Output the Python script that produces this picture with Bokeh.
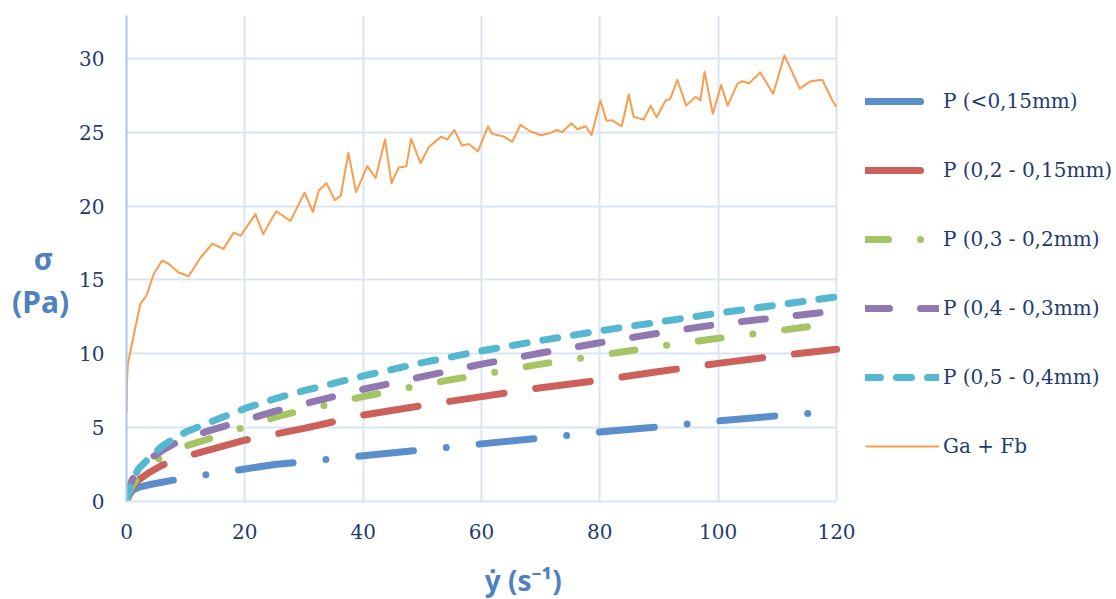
from bokeh.plotting import figure
from bokeh.models import FixedTicker, Range1d, Legend, LegendItem
from bokeh.embed import file_html
from bokeh.resources import INLINE

# ---- data ----
x_ticks = [0, 20, 40, 60, 80, 100, 120]
y_ticks = [0, 5, 10, 15, 20, 25, 30]

rate = [0, 0.5, 1, 2, 4, 6, 8, 10, 14, 20, 25, 30, 40, 50, 60, 70, 80, 90, 100, 110, 120]
p_lt015 = [0, 0.45, 0.75, 0.95, 1.15, 1.3, 1.45, 1.6, 1.85, 2.2, 2.5, 2.7, 3.1, 3.5, 3.9, 4.3, 4.7, 5.05, 5.45, 5.8, 6.1]
p_02_015 = [0, 0.6, 1.0, 1.45, 2.0, 2.45, 2.8, 3.05, 3.5, 4.15, 4.55, 4.95, 5.85, 6.5, 7.1, 7.7, 8.2, 8.8, 9.35, 9.85, 10.3]
p_03_02 = [0, 0.7, 1.1, 1.65, 2.45, 3.05, 3.45, 3.75, 4.25, 5.05, 5.7, 6.2, 7.1, 7.9, 8.6, 9.3, 9.9, 10.5, 11.05, 11.55, 12.1]
p_04_03 = [0, 1.0, 1.5, 2.05, 2.9, 3.45, 3.9, 4.25, 4.8, 5.5, 6.1, 6.6, 7.6, 8.45, 9.3, 10.05, 10.75, 11.4, 12.0, 12.45, 12.9]
p_05_04 = [0, 0.9, 1.4, 2.2, 3.0, 3.75, 4.25, 4.7, 5.35, 6.3, 6.95, 7.5, 8.5, 9.4, 10.2, 10.9, 11.55, 12.15, 12.75, 13.3, 13.85]

ga_x = [0, 0.08, 0.22, 0.68, 1.5, 2.37, 3.4, 4.6, 6.0, 7.1,
        8.8, 10.5, 12.5, 14.5, 16.4, 18.1, 19.3, 21.8, 23.1, 25.3,
        27.7, 30.1, 31.5, 32.5, 33.8, 35.2, 36.2, 37.5, 38.8, 40.7,
        42.1, 43.7, 44.8, 46.0, 47.3, 48.1, 49.7, 51.1, 53.2, 54.2,
        55.4, 56.7, 57.9, 59.4, 61.1, 61.8, 63.8, 65.2, 66.6, 68.3,
        70.0, 71.7, 72.7, 73.6, 75.2, 76.2, 77.6, 78.6, 80.1, 81.1,
        82.1, 83.7, 84.9, 85.7, 87.4, 88.6, 89.6, 91.1, 91.9, 93.1,
        94.6, 96.2, 97.0, 97.7, 99.1, 100.5, 101.6, 103.3, 104.1, 105.2,
        107.1, 109.3, 111.2, 113.8, 115.6, 117.6, 119.3, 120]
ga_y = [6.0, 8.0, 9.3, 10.2, 11.8, 13.4, 13.95, 15.4, 16.3, 16.1,
        15.5, 15.25, 16.5, 17.45, 17.1, 18.2, 18.0, 19.45, 18.1, 19.65,
        19.0, 20.9, 19.6, 21.05, 21.55, 20.4, 20.7, 23.6, 20.95, 22.7,
        21.9, 24.5, 21.55, 22.6, 22.7, 24.55, 22.9, 24.0, 24.7, 24.5,
        25.15, 24.1, 24.2, 23.7, 25.4, 24.9, 24.7, 24.35, 25.5, 25.05,
        24.8, 24.95, 25.15, 25.0, 25.6, 25.2, 25.4, 24.8, 27.15, 25.8,
        25.8, 25.4, 27.55, 26.05, 25.85, 26.8, 26.0, 27.15, 27.25, 28.55,
        26.8, 27.4, 27.15, 29.1, 26.25, 28.2, 26.8, 28.3, 28.45, 28.3,
        29.05, 27.6, 30.2, 27.95, 28.45, 28.55, 27.15, 26.7]

labels = ["P (<0,15mm)", "P (0,2 - 0,15mm)", "P (0,3 - 0,2mm)",
          "P (0,4 - 0,3mm)", "P (0,5 - 0,4mm)", "Ga + Fb"]

# ---- styling ----
TXT = "#1f3b6e"
TITLE = "#4f81bd"
GRID = "#dae5f3"
SERIF = "DejaVu Serif"
SANS = "Noto Sans"
NB = "\u00a0"

X_MAX = 120
X_VIEW = X_MAX * 990 / 710   # plot frame also hosts the legend to the right

p = figure(frame_width=990, frame_height=486,
           output_backend="svg", toolbar_location=None,
           x_range=Range1d(0, X_VIEW), y_range=Range1d(0, 32.9),
           min_border_left=126, min_border_right=0,
           min_border_top=15, min_border_bottom=98)
p.outline_line_color = None

p.xaxis.ticker = FixedTicker(ticks=x_ticks)
p.yaxis.ticker = FixedTicker(ticks=y_ticks)
p.xaxis.bounds = (0, X_MAX)
p.ygrid.cross_bounds = (0, X_MAX)
p.grid.grid_line_color = GRID
p.grid.grid_line_width = 2
for ax in (p.xaxis, p.yaxis):
    ax.major_tick_line_color = None
    ax.minor_tick_line_color = None
    ax.major_label_text_font = SERIF
    ax.major_label_text_font_size = "20px"
    ax.major_label_text_color = TXT
    ax.axis_label_text_font = SANS
    ax.axis_label_text_font_style = "bold"
    ax.axis_label_text_color = TITLE
    ax.axis_label_text_font_size = "28px"
p.yaxis.axis_line_color = "#a8c5ea"
p.yaxis.axis_line_width = 2
p.xaxis.axis_line_color = GRID
p.xaxis.axis_line_width = 2
p.yaxis.major_label_standoff = 16
p.xaxis.major_label_standoff = 16

p.yaxis.axis_label = NB + "\n" + NB * 2 + "σ" + NB * 2 + "\n(Pa)"
p.yaxis.axis_label_orientation = "horizontal"
p.yaxis.axis_label_standoff = 7
p.yaxis.axis_label_text_font_size = "30px"
p.yaxis.axis_label_text_line_height = 1.05
p.xaxis.axis_label = "ẏ (s⁻¹)" + NB * 27
p.xaxis.axis_label_standoff = 19

W = 7
r1 = p.line(rate, p_lt015, line_color="#5b8fcb", line_width=W, line_cap="round",
            line_join="round", line_dash="55 33 0 33")
r2 = p.line(rate, p_02_015, line_color="#cc605a", line_width=W, line_cap="round",
            line_join="round", line_dash="55 32")
r3 = p.line(rate, p_03_02, line_color="#a5c463", line_width=W, line_cap="round",
            line_join="round", line_dash="23 32 0 32")
r4 = p.line(rate, p_04_03, line_color="#9178b0", line_width=W, line_cap="round",
            line_join="round", line_dash="24 31")
r5 = p.line(rate, p_05_04, line_color="#55b8d0", line_width=W, line_cap="round",
            line_join="round", line_dash="15 16")
r6 = p.line(ga_x, ga_y, line_color="#f99d4d", line_width=2, line_join="round")

lg = Legend(items=[LegendItem(label=t, renderers=[r]) for t, r in
                   zip(labels, [r1, r2, r3, r4, r5, r6])])
lg.location = (739, 43)
lg.glyph_width = 74
lg.glyph_height = 24
lg.label_height = 24
lg.spacing = 45
lg.padding = 0
lg.margin = 0
lg.label_standoff = 4
lg.label_text_font = SERIF
lg.label_text_font_size = "20px"
lg.label_text_color = TXT
lg.border_line_color = None
lg.background_fill_alpha = 0
p.add_layout(lg)

open("out.html", "w").write(file_html(p, INLINE))
